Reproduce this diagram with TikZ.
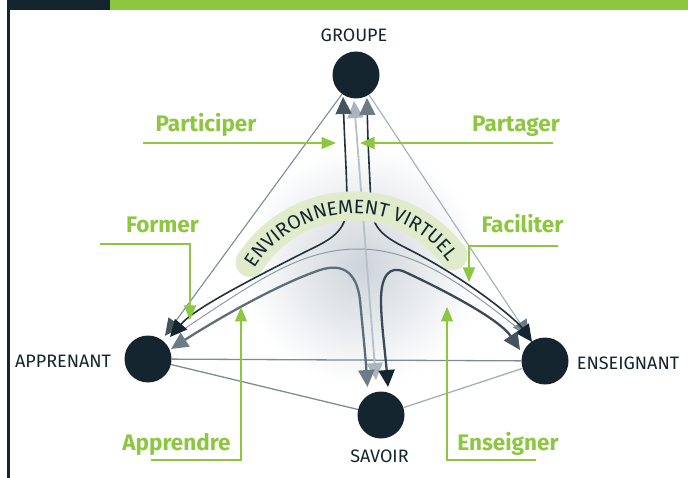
\documentclass[tikz,border=0pt]{standalone}
\usepackage{fontspec}
\setmainfont{Fira Sans}
\usetikzlibrary{arrows.meta,decorations.text}
\definecolor{navy}{HTML}{15252F}
\definecolor{leaf}{HTML}{8DC63F}
\definecolor{bandgreen}{HTML}{DFEBCB}
\definecolor{gdark}{HTML}{44535D}
\definecolor{gmid}{HTML}{6C7C87}
\definecolor{glight}{HTML}{AAB6BE}
\definecolor{glow}{HTML}{CDD4DA}
\definecolor{lineA}{HTML}{7E8B94}
\definecolor{lineB}{HTML}{A3AEB6}
\definecolor{curveDark}{HTML}{22323D}
\definecolor{curveMid}{HTML}{5E6E79}
\definecolor{curveLR}{HTML}{394955}
\definecolor{vlinecol}{HTML}{B5C0C7}
\definecolor{archcol}{HTML}{8E9BA4}
\begin{document}
\begin{tikzpicture}[x=1pt,y=-1pt,
  hub/.style={circle,fill=navy,minimum size=47pt,inner sep=0pt,draw=none},
  caplabel/.style={anchor=base,text=navy,font=\fontsize{18}{20}\selectfont},
  verb/.style={anchor=base,text=leaf,font=\fontsize{22.5}{26}\selectfont\bfseries},
  pointer/.style={draw=leaf,line width=1.1pt,arrows={-Triangle[length=14.5pt,width=12pt,color=leaf]}},
  twoends/.style 2 args={arrows={Triangle[length=17pt,width=16pt,color=#1]-Triangle[length=17pt,width=16pt,color=#2]}},
  oneend/.style={arrows={-Triangle[length=17pt,width=16pt,color=#1]}},
  baseedge/.style={line width=1.3pt},
  outeredge/.style={line width=1.1pt},
  ulcurve/.style={draw=curveDark,line width=1.6pt},
  llcurve/.style={draw=curveMid,line width=2.3pt},
  lrcurve/.style={draw=curveLR,line width=2.3pt},
  vlink/.style={draw=vlinecol,line width=1.8pt},
  archlink/.style={draw=archcol,line width=1pt},
]
\useasboundingbox (0,0) rectangle (688,478);
% glow
\shade[inner color=glow,outer color=white] (362,266) circle[radius=120];
% frame
\fill[navy] (7,0) rectangle (110,10);
\fill[leaf] (110,0) rectangle (688,10);
\fill[navy] (7,10) rectangle (9.5,478);

% main nodes
\node[hub] (G) at (356,75) {};
\node[hub] (A) at (148,359) {};
\node[hub] (E) at (545,361) {};
\node[hub] (S) at (381,415) {};

% tip coordinates
\coordinate (gL) at (343,97);
\coordinate (gM) at (354,101);
\coordinate (gR) at (367,98);
\coordinate (aM) at (170,337);
\coordinate (aL) at (171,349);
\coordinate (eM) at (532,342);
\coordinate (eL) at (520,350);
\coordinate (sL) at (367.5,387);
\coordinate (sM) at (376,380);
\coordinate (sR) at (388,387);
\coordinate (aA) at (178,333);
\coordinate (eA) at (525,334);

% base triangle
\draw[baseedge,draw=lineA] (A) -- (E);
\draw[baseedge,draw=lineA] (A) -- (S);
\draw[baseedge,draw=lineB] (S) -- (E);
\draw[outeredge,draw=lineA,oneend=gdark,shorten >=5pt] (G) -- (A);
\draw[outeredge,draw=lineB,oneend=gmid,shorten >=5pt] (G) -- (E);

% hub connectors
\draw[archlink] (aA) .. controls (255,282) and (300,249) .. (358,249)
  .. controls (415,249) and (460,282) .. (eA);
\draw[vlink,twoends={glight}{glight}] (gM) -- (sM);
\draw[ulcurve,twoends={gdark}{navy}] (gL) .. controls (345,150) and (347,180) .. (347,205)
  .. controls (347,232) and (330,240) .. (305,252)
  .. controls (250,280) and (195,308) .. (aM);
\draw[ulcurve,twoends={gmid}{navy}] (gR) .. controls (368,150) and (370,180) .. (371,205)
  .. controls (372,230) and (386,238) .. (410,250)
  .. controls (465,278) and (515,318) .. (eM);
\draw[llcurve,twoends={gmid}{gmid}] (sL) .. controls (365,350) and (362,322) .. (360,300)
  .. controls (357,275) and (345,262) .. (320,270)
  .. controls (270,287) and (200,330) .. (aL);
\draw[lrcurve,twoends={navy}{gdark}] (sR) .. controls (385,350) and (381,322) .. (381,300)
  .. controls (381,275) and (390,265) .. (405,272)
  .. controls (450,293) and (500,320) .. (eL);

% band with curved title
\draw[bandgreen,line width=29pt,line cap=round] (354,330) ++(-147:124)
  arc[start angle=-147,end angle=-37,radius=124];
\path[decorate,decoration={text along path,text align=center,
  text={|\fontsize{19.5}{19.5}\selectfont\color{navy}|ENVIRONNEMENT VIRTUEL}}]
  (354,330) ++(-154:116.5) arc[start angle=-154,end angle=-30,radius=116.5];

% labels
\node[caplabel] (lG) at (354,42) {GROUPE};
\node[caplabel] (lA) at (63,367) {APPRENANT};
\node[caplabel] (lE) at (628,369) {ENSEIGNANT};
\node[caplabel] (lS) at (379.5,462.5) {SAVOIR};

% green verbs and pointers
\node[verb] (vPa) at (206,131.5) {Participer};
\node[verb] (vPt) at (516,131.5) {Partager};
\node[verb] (vFo) at (162.5,233) {Former};
\node[verb] (vFa) at (522.5,233) {Faciliter};
\node[verb] (vAp) at (176.5,450) {Apprendre};
\node[verb] (vEn) at (508,450) {Enseigner};

\coordinate (pa0) at (143,143); \coordinate (pa1) at (336,143);
\coordinate (pt0) at (553,143); \coordinate (pt1) at (360,143);
\coordinate (fo0) at (100,244); \coordinate (fo1) at (190,320);
\coordinate (fa0) at (558,246); \coordinate (fa1) at (469,282);
\coordinate (ap0) at (151,460); \coordinate (ap1) at (241,307);
\coordinate (en0) at (536,460); \coordinate (en1) at (447,307);
\draw[pointer] (pa0) -- (pa1);
\draw[pointer] (pt0) -- (pt1);
\draw[pointer] (fo0) -| (fo1);
\draw[pointer] (fa0) -| (fa1);
\draw[pointer] (ap0) -| (ap1);
\draw[pointer] (en0) -| (en1);
\end{tikzpicture}
\end{document}
